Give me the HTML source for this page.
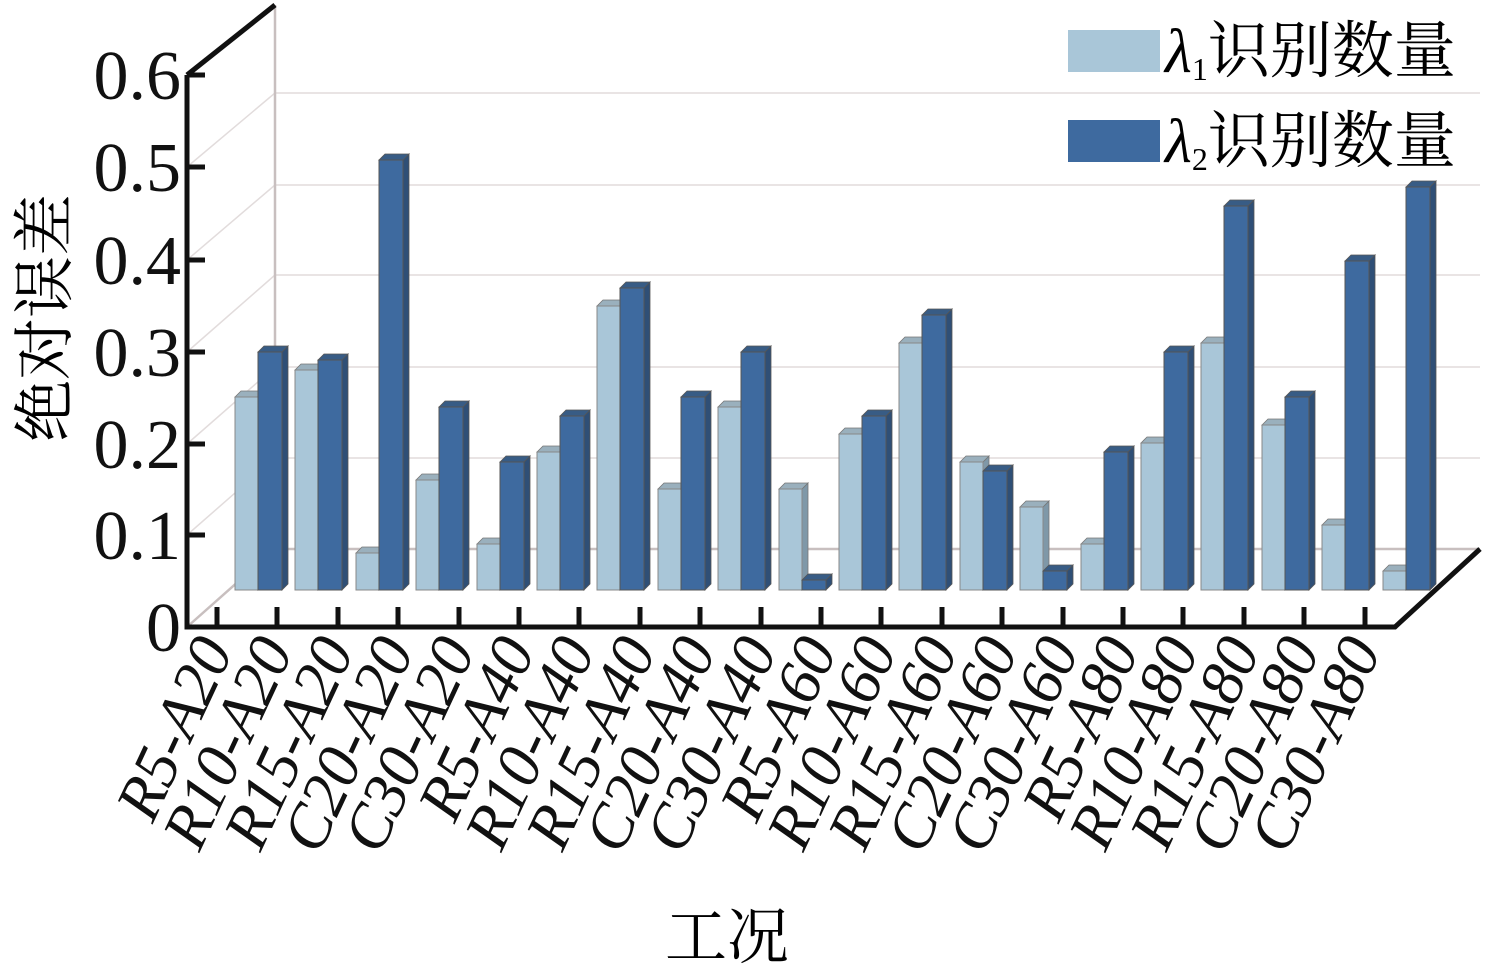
<!DOCTYPE html>
<html><head><meta charset="utf-8"><style>body{margin:0;background:#fff}svg{display:block}
.lf{fill:#a9c6d8;stroke:#888;stroke-width:1}.lt{fill:#9ab0bd;stroke:#777;stroke-width:.8}.ls{fill:#7f98a8;stroke:#777;stroke-width:.8}
.df{fill:#3e6a9f;stroke:#555;stroke-width:1}.dt{fill:#385c85;stroke:#555;stroke-width:.8}.ds{fill:#2f4f76;stroke:#555;stroke-width:.8}
</style></head><body>
<svg width="1488" height="967" xmlns="http://www.w3.org/2000/svg" font-family="Liberation Serif, Noto Serif CJK SC, serif">
<g stroke="#e2dcdc" stroke-width="1.5" fill="none">
<line x1="275" y1="93" x2="1480" y2="93"/><line x1="275" y1="185" x2="1480" y2="185"/><line x1="275" y1="275" x2="1480" y2="275"/><line x1="275" y1="367" x2="1480" y2="367"/><line x1="275" y1="458" x2="1480" y2="458"/>
<line x1="187" y1="167" x2="275" y2="93"/><line x1="187" y1="260" x2="275" y2="185"/><line x1="187" y1="352" x2="275" y2="275"/><line x1="187" y1="444" x2="275" y2="367"/><line x1="187" y1="535" x2="275" y2="458"/>
</g>
<g stroke="#c8bfbf" stroke-width="2.5" fill="none">
<line x1="275" y1="5" x2="275" y2="549"/><line x1="275" y1="549" x2="1480" y2="549"/><line x1="187" y1="627" x2="275" y2="549"/>
</g>
<g transform="translate(235,0)"><polygon class="ls" points="23,590 29,584 29,391 23,397"/><polygon class="lt" points="0,397 6,391 29,391 23,397"/><rect class="lf" x="0" y="397" width="23" height="193"/><polygon class="ds" points="47,590 53,584 53,346 47,352"/><polygon class="dt" points="23,352 29,346 53,346 47,352"/><rect class="df" x="23" y="352" width="24" height="238"/></g>
<g transform="translate(295,0)"><polygon class="ls" points="23,590 29,584 29,364 23,370"/><polygon class="lt" points="0,370 6,364 29,364 23,370"/><rect class="lf" x="0" y="370" width="23" height="220"/><polygon class="ds" points="47,590 53,584 53,354 47,360"/><polygon class="dt" points="23,360 29,354 53,354 47,360"/><rect class="df" x="23" y="360" width="24" height="230"/></g>
<g transform="translate(356,0)"><polygon class="ls" points="23,590 29,584 29,547 23,553"/><polygon class="lt" points="0,553 6,547 29,547 23,553"/><rect class="lf" x="0" y="553" width="23" height="37"/><polygon class="ds" points="47,590 53,584 53,154 47,160"/><polygon class="dt" points="23,160 29,154 53,154 47,160"/><rect class="df" x="23" y="160" width="24" height="430"/></g>
<g transform="translate(416,0)"><polygon class="ls" points="23,590 29,584 29,474 23,480"/><polygon class="lt" points="0,480 6,474 29,474 23,480"/><rect class="lf" x="0" y="480" width="23" height="110"/><polygon class="ds" points="47,590 53,584 53,401 47,407"/><polygon class="dt" points="23,407 29,401 53,401 47,407"/><rect class="df" x="23" y="407" width="24" height="183"/></g>
<g transform="translate(477,0)"><polygon class="ls" points="23,590 29,584 29,538 23,544"/><polygon class="lt" points="0,544 6,538 29,538 23,544"/><rect class="lf" x="0" y="544" width="23" height="46"/><polygon class="ds" points="47,590 53,584 53,456 47,462"/><polygon class="dt" points="23,462 29,456 53,456 47,462"/><rect class="df" x="23" y="462" width="24" height="128"/></g>
<g transform="translate(537,0)"><polygon class="ls" points="23,590 29,584 29,446 23,452"/><polygon class="lt" points="0,452 6,446 29,446 23,452"/><rect class="lf" x="0" y="452" width="23" height="138"/><polygon class="ds" points="47,590 53,584 53,410 47,416"/><polygon class="dt" points="23,416 29,410 53,410 47,416"/><rect class="df" x="23" y="416" width="24" height="174"/></g>
<g transform="translate(597,0)"><polygon class="ls" points="23,590 29,584 29,300 23,306"/><polygon class="lt" points="0,306 6,300 29,300 23,306"/><rect class="lf" x="0" y="306" width="23" height="284"/><polygon class="ds" points="47,590 53,584 53,282 47,288"/><polygon class="dt" points="23,288 29,282 53,282 47,288"/><rect class="df" x="23" y="288" width="24" height="302"/></g>
<g transform="translate(658,0)"><polygon class="ls" points="23,590 29,584 29,483 23,489"/><polygon class="lt" points="0,489 6,483 29,483 23,489"/><rect class="lf" x="0" y="489" width="23" height="101"/><polygon class="ds" points="47,590 53,584 53,391 47,397"/><polygon class="dt" points="23,397 29,391 53,391 47,397"/><rect class="df" x="23" y="397" width="24" height="193"/></g>
<g transform="translate(718,0)"><polygon class="ls" points="23,590 29,584 29,401 23,407"/><polygon class="lt" points="0,407 6,401 29,401 23,407"/><rect class="lf" x="0" y="407" width="23" height="183"/><polygon class="ds" points="47,590 53,584 53,346 47,352"/><polygon class="dt" points="23,352 29,346 53,346 47,352"/><rect class="df" x="23" y="352" width="24" height="238"/></g>
<g transform="translate(779,0)"><polygon class="ls" points="23,590 29,584 29,483 23,489"/><polygon class="lt" points="0,489 6,483 29,483 23,489"/><rect class="lf" x="0" y="489" width="23" height="101"/><polygon class="ds" points="47,590 53,584 53,574 47,580"/><polygon class="dt" points="23,580 29,574 53,574 47,580"/><rect class="df" x="23" y="580" width="24" height="10"/></g>
<g transform="translate(839,0)"><polygon class="ls" points="23,590 29,584 29,428 23,434"/><polygon class="lt" points="0,434 6,428 29,428 23,434"/><rect class="lf" x="0" y="434" width="23" height="156"/><polygon class="ds" points="47,590 53,584 53,410 47,416"/><polygon class="dt" points="23,416 29,410 53,410 47,416"/><rect class="df" x="23" y="416" width="24" height="174"/></g>
<g transform="translate(899,0)"><polygon class="ls" points="23,590 29,584 29,337 23,343"/><polygon class="lt" points="0,343 6,337 29,337 23,343"/><rect class="lf" x="0" y="343" width="23" height="247"/><polygon class="ds" points="47,590 53,584 53,309 47,315"/><polygon class="dt" points="23,315 29,309 53,309 47,315"/><rect class="df" x="23" y="315" width="24" height="275"/></g>
<g transform="translate(960,0)"><polygon class="ls" points="23,590 29,584 29,456 23,462"/><polygon class="lt" points="0,462 6,456 29,456 23,462"/><rect class="lf" x="0" y="462" width="23" height="128"/><polygon class="ds" points="47,590 53,584 53,465 47,471"/><polygon class="dt" points="23,471 29,465 53,465 47,471"/><rect class="df" x="23" y="471" width="24" height="119"/></g>
<g transform="translate(1020,0)"><polygon class="ls" points="23,590 29,584 29,501 23,507"/><polygon class="lt" points="0,507 6,501 29,501 23,507"/><rect class="lf" x="0" y="507" width="23" height="83"/><polygon class="ds" points="47,590 53,584 53,565 47,571"/><polygon class="dt" points="23,571 29,565 53,565 47,571"/><rect class="df" x="23" y="571" width="24" height="19"/></g>
<g transform="translate(1081,0)"><polygon class="ls" points="23,590 29,584 29,538 23,544"/><polygon class="lt" points="0,544 6,538 29,538 23,544"/><rect class="lf" x="0" y="544" width="23" height="46"/><polygon class="ds" points="47,590 53,584 53,446 47,452"/><polygon class="dt" points="23,452 29,446 53,446 47,452"/><rect class="df" x="23" y="452" width="24" height="138"/></g>
<g transform="translate(1141,0)"><polygon class="ls" points="23,590 29,584 29,437 23,443"/><polygon class="lt" points="0,443 6,437 29,437 23,443"/><rect class="lf" x="0" y="443" width="23" height="147"/><polygon class="ds" points="47,590 53,584 53,346 47,352"/><polygon class="dt" points="23,352 29,346 53,346 47,352"/><rect class="df" x="23" y="352" width="24" height="238"/></g>
<g transform="translate(1201,0)"><polygon class="ls" points="23,590 29,584 29,337 23,343"/><polygon class="lt" points="0,343 6,337 29,337 23,343"/><rect class="lf" x="0" y="343" width="23" height="247"/><polygon class="ds" points="47,590 53,584 53,200 47,206"/><polygon class="dt" points="23,206 29,200 53,200 47,206"/><rect class="df" x="23" y="206" width="24" height="384"/></g>
<g transform="translate(1262,0)"><polygon class="ls" points="23,590 29,584 29,419 23,425"/><polygon class="lt" points="0,425 6,419 29,419 23,425"/><rect class="lf" x="0" y="425" width="23" height="165"/><polygon class="ds" points="47,590 53,584 53,391 47,397"/><polygon class="dt" points="23,397 29,391 53,391 47,397"/><rect class="df" x="23" y="397" width="24" height="193"/></g>
<g transform="translate(1322,0)"><polygon class="ls" points="23,590 29,584 29,519 23,525"/><polygon class="lt" points="0,525 6,519 29,519 23,525"/><rect class="lf" x="0" y="525" width="23" height="65"/><polygon class="ds" points="47,590 53,584 53,255 47,261"/><polygon class="dt" points="23,261 29,255 53,255 47,261"/><rect class="df" x="23" y="261" width="24" height="329"/></g>
<g transform="translate(1383,0)"><polygon class="ls" points="23,590 29,584 29,565 23,571"/><polygon class="lt" points="0,571 6,565 29,565 23,571"/><rect class="lf" x="0" y="571" width="23" height="19"/><polygon class="ds" points="47,590 53,584 53,181 47,187"/><polygon class="dt" points="23,187 29,181 53,181 47,187"/><rect class="df" x="23" y="187" width="24" height="403"/></g>
<g stroke="#111" stroke-width="5" fill="none">
<polyline points="187,75 187,627 1395,627 1480,549"/><line x1="187" y1="75" x2="275" y2="5"/>
<line x1="187" y1="75" x2="205" y2="75"/><line x1="187" y1="167" x2="205" y2="167"/><line x1="187" y1="260" x2="205" y2="260"/><line x1="187" y1="352" x2="205" y2="352"/><line x1="187" y1="444" x2="205" y2="444"/><line x1="187" y1="535" x2="205" y2="535"/>
<line x1="217" y1="627" x2="217" y2="607"/><line x1="277" y1="627" x2="277" y2="607"/><line x1="338" y1="627" x2="338" y2="607"/><line x1="398" y1="627" x2="398" y2="607"/><line x1="459" y1="627" x2="459" y2="607"/><line x1="519" y1="627" x2="519" y2="607"/><line x1="579" y1="627" x2="579" y2="607"/><line x1="640" y1="627" x2="640" y2="607"/><line x1="700" y1="627" x2="700" y2="607"/><line x1="761" y1="627" x2="761" y2="607"/><line x1="821" y1="627" x2="821" y2="607"/><line x1="881" y1="627" x2="881" y2="607"/><line x1="942" y1="627" x2="942" y2="607"/><line x1="1002" y1="627" x2="1002" y2="607"/><line x1="1063" y1="627" x2="1063" y2="607"/><line x1="1123" y1="627" x2="1123" y2="607"/><line x1="1183" y1="627" x2="1183" y2="607"/><line x1="1244" y1="627" x2="1244" y2="607"/><line x1="1304" y1="627" x2="1304" y2="607"/><line x1="1365" y1="627" x2="1365" y2="607"/>
</g>
<g font-size="70" text-anchor="end" fill="#111">
<text x="181" y="99">0.6</text><text x="181" y="191">0.5</text><text x="181" y="284">0.4</text><text x="181" y="376">0.3</text><text x="181" y="468">0.2</text><text x="181" y="559">0.1</text><text x="181" y="651">0</text>
</g>
<g font-size="63" font-style="italic" text-anchor="end" fill="#111">
<text transform="translate(234,650) rotate(-65)">R5-A20</text>
<text transform="translate(294,650) rotate(-65)">R10-A20</text>
<text transform="translate(355,650) rotate(-65)">R15-A20</text>
<text transform="translate(415,650) rotate(-65)">C20-A20</text>
<text transform="translate(476,650) rotate(-65)">C30-A20</text>
<text transform="translate(536,650) rotate(-65)">R5-A40</text>
<text transform="translate(596,650) rotate(-65)">R10-A40</text>
<text transform="translate(657,650) rotate(-65)">R15-A40</text>
<text transform="translate(717,650) rotate(-65)">C20-A40</text>
<text transform="translate(778,650) rotate(-65)">C30-A40</text>
<text transform="translate(838,650) rotate(-65)">R5-A60</text>
<text transform="translate(898,650) rotate(-65)">R10-A60</text>
<text transform="translate(959,650) rotate(-65)">R15-A60</text>
<text transform="translate(1019,650) rotate(-65)">C20-A60</text>
<text transform="translate(1080,650) rotate(-65)">C30-A60</text>
<text transform="translate(1140,650) rotate(-65)">R5-A80</text>
<text transform="translate(1200,650) rotate(-65)">R10-A80</text>
<text transform="translate(1261,650) rotate(-65)">R15-A80</text>
<text transform="translate(1321,650) rotate(-65)">C20-A80</text>
<text transform="translate(1382,650) rotate(-65)">C30-A80</text>
</g>
<text transform="translate(66,318) rotate(-90)" font-size="62" text-anchor="middle" font-family="Noto Serif CJK SC, serif">绝对误差</text>
<text x="727" y="958" font-size="62" text-anchor="middle" font-family="Noto Serif CJK SC, serif">工况</text>
<rect x="1068" y="30" width="92" height="42" fill="#a9c6d8"/><rect x="1068" y="120" width="92" height="42" fill="#3e6a9f"/>
<text x="1165" y="72" font-size="62"><tspan font-style="italic">λ</tspan><tspan font-size="32" dy="8">1</tspan><tspan dy="-8" font-family="Noto Serif CJK SC, serif">识别数量</tspan></text>
<text x="1165" y="162" font-size="62"><tspan font-style="italic">λ</tspan><tspan font-size="32" dy="8">2</tspan><tspan dy="-8" font-family="Noto Serif CJK SC, serif">识别数量</tspan></text>
</svg>
</body></html>
